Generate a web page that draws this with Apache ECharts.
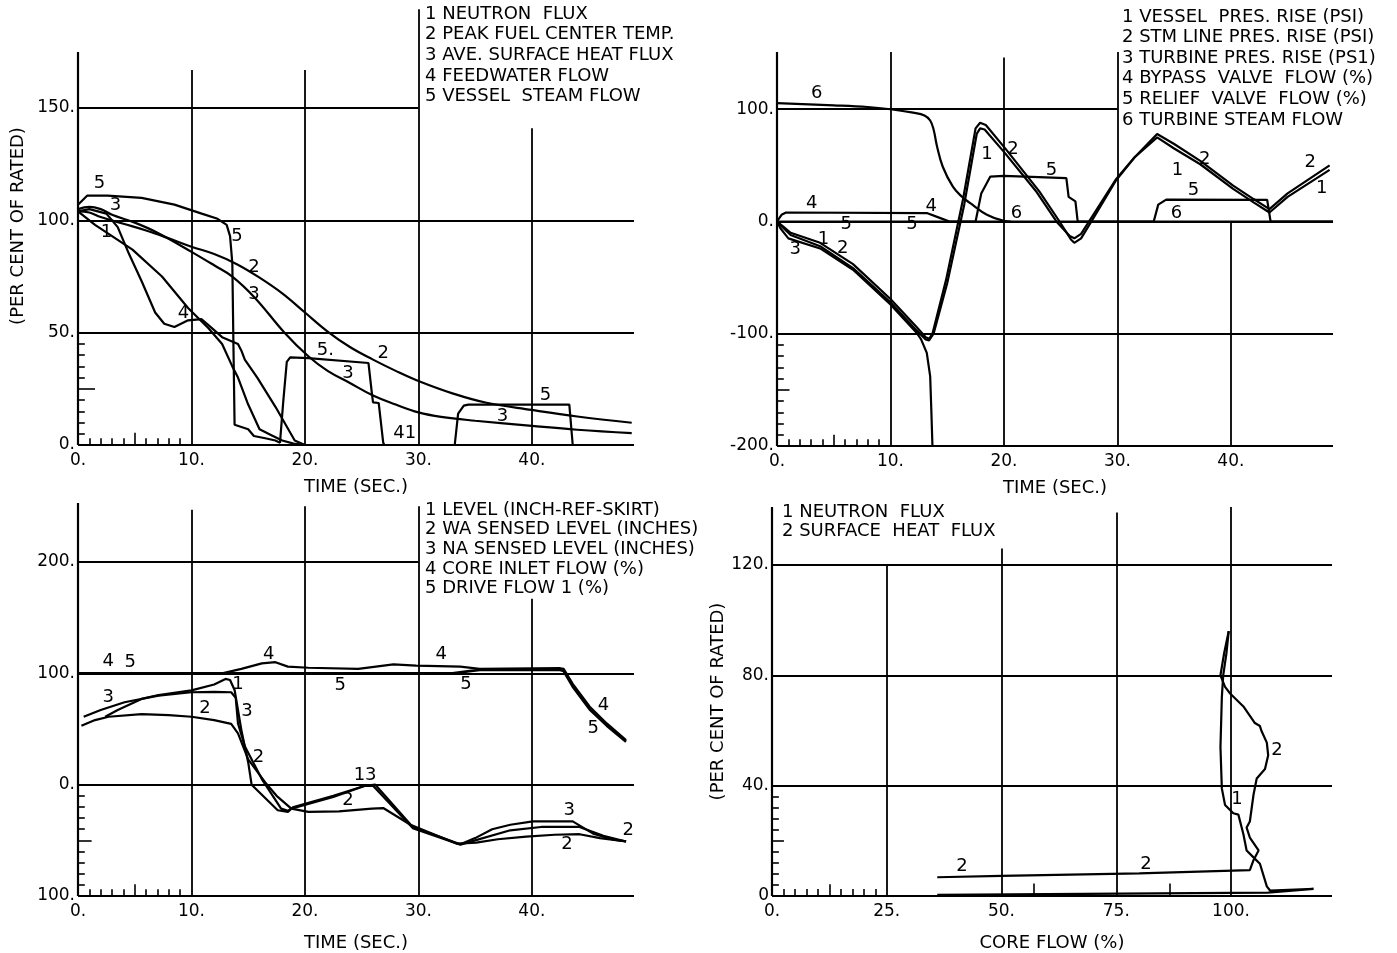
<!DOCTYPE html>
<html><head><meta charset="utf-8">
<script src="https://cdn.jsdelivr.net/npm/echarts@6/dist/echarts.min.js"></script>
<style>html,body{margin:0;padding:0;background:#fff}#c{width:1397px;height:953px}</style>
</head><body><div id="c"></div>
<script>
// ---------------- PANEL 1 (time, % of rated) ----------------
const p1NeutronFlux = [[0,104],[1.5,98],[3,93],[4.8,87],[7.4,75],[9.7,61],[11.5,52],[12.7,45],[13.6,35],[14.1,30],[15,18],[16,7],[17,4.5],[18,2],[19,0.6],[20,0],[43,0]];
const p1PeakFuelTemp = [[0,104],[1,103.5],[2,101.5],[4,98.5],[6,95.5],[8,92],[10,88.3],[12,85],[14,80.5],[16,74.5],[18,67.5],[20,59],[22,50.5],[24,43.5],[26,38],[28,33],[30,28.5],[33,23],[36,18.8],[40,15.6],[44,12.7],[48.8,9.9]];
const p1SurfaceHeatFlux = [[0,105],[1,106],[2,105],[3,102.5],[5,99],[7,94.5],[10,86],[12,80],[13.6,75],[15.6,65.5],[18.2,50],[20.3,39.5],[22,33],[24,27.5],[26,22],[28,18],[30,14.5],[32,12.5],[35,10.8],[40,8.5],[44,6.8],[48.8,5.3]];
const p1FeedwaterFlow = [[0,104],[1,105],[2.5,103],[3.5,97],[4.5,85],[5.6,73],[6.8,59],[7.6,54],[8.5,52.5],[9.7,55.5],[10.9,56],[11.8,52],[12.7,48],[14.1,45],[14.4,42],[14.7,38],[15.8,30],[17.4,17],[19.1,2],[20,0],[43,0]];
const p1VesselSteamFlow = [[0,107],[0.8,111],[2.6,111],[5.6,110],[8.5,107],[10.9,103],[12.3,100.7],[13.1,98],[13.4,93],[13.6,81],[13.7,44],[13.8,9],[15,7],[15.5,4],[16.5,3],[17.4,2],[17.8,1],[18.1,20],[18.4,37],[18.7,39],[20.3,38.7],[25.6,36.5],[25.9,23],[26,19],[26.5,18.7],[26.9,1],[27,0],[33.2,0],[33.5,14],[34,17.5],[34.4,18],[43.3,18],[43.6,0],[48.5,0]];
const p1Notes = [[1.9,116.7,'5'],[3.3,106.5,'3'],[2.5,94.9,'1'],[14.0,93.1,'5'],[15.5,79.3,'2'],[15.5,67.3,'3'],[9.3,58.8,'4'],[21.8,42.3,'5.'],[26.9,41.0,'2'],[23.8,32.1,'3'],[41.2,22.3,'5'],[37.4,12.9,'3'],[28.8,5.3,'41']];
const p1Legend = ['1 NEUTRON  FLUX','2 PEAK FUEL CENTER TEMP.','3 AVE. SURFACE HEAT FLUX','4 FEEDWATER FLOW','5 VESSEL  STEAM FLOW'];
const p1HGrid = [[150,0,30],[100,0,49],[50,0,49]];
const p1VGrid = [[10,0,167],[20,0,167],[30,0,194],[40,0,141]];

// ---------------- PANEL 2 (time, pressure rise / flow) ----------------
const p2VesselPres = [[0,0],[0.5,-5],[1.2,-12],[3.8,-22],[6.7,-41.5],[10,-72],[12.3,-97],[13.1,-105],[13.4,-106],[13.8,-100],[15,-55],[16.5,15],[17.6,78],[17.9,83],[18.3,82],[20,62],[22.9,26],[24.7,-1],[25.8,-13],[26.2,-15],[26.8,-11],[28,8],[29.9,38],[31.5,57],[33.5,75],[35,65],[37.3,51],[40.2,29],[42,17],[43.4,8],[45,22],[48.7,46]];
const p2StmLinePres = [[0,0],[0.5,-4],[1.2,-10],[3.8,-19],[6.7,-38],[10,-69],[12.3,-94],[13.1,-103],[13.4,-104.5],[13.7,-100],[14.9,-52],[16.4,20],[17.5,83],[17.9,88],[18.4,86],[20.2,64],[23.1,27],[24.9,0],[25.9,-16],[26.2,-19],[26.8,-15],[28,5],[29.9,37],[31.5,57],[33.5,78],[35,69],[37.3,54],[40.2,32],[42,20],[43.4,11],[45,25],[48.7,50]];
const p2TurbinePres = [[0,0],[0.3,-6],[1,-15],[3.8,-24],[6.7,-43],[10,-74],[12.3,-99],[12.7,-105],[13.2,-117],[13.5,-138],[13.6,-168],[13.7,-200]];
const p2BypassFlow = [[0,0],[0.4,6],[0.8,8],[13.2,7.5],[14.4,3],[15.2,0],[49,0]];
const p2ReliefFlow = [[0,0],[17.5,0],[18,25],[18.8,40],[20,40.7],[25.5,38.6],[25.7,22],[26.3,18],[26.5,0],[33.2,0],[33.6,15],[34.3,19.5],[43.2,19.3],[43.5,0],[49,0]];
const p2TurbineSteam = [[0,105.4],[5,103.5],[8,102],[10,100],[12,97],[13,94.5],[13.5,90],[13.8,82],[14.1,67],[14.6,49],[15.5,31],[16.3,22],[17,16.6],[18.5,6],[20,0.5],[20.6,0]];
const p2Notes = [[3.5,114.3,'6'],[18.5,59.4,'1'],[20.8,63.9,'2'],[24.2,46,'5'],[3.06,16.4,'4'],[13.6,13.4,'4'],[6.1,-2.9,'5'],[11.9,-2.9,'5'],[21.1,7.5,'6'],[1.6,-25.2,'3'],[4.1,-16.3,'1'],[5.8,-23.7,'2'],[35.3,46,'1'],[37.7,55,'2'],[36.7,28.2,'5'],[35.2,7.7,'6'],[47,52.3,'2'],[48,29.7,'1']];
const p2Legend = ['1 VESSEL  PRES. RISE (PSI)','2 STM LINE PRES. RISE (PSI)','3 TURBINE PRES. RISE (PS1)','4 BYPASS  VALVE  FLOW (%)','5 RELIEF  VALVE  FLOW (%)','6 TURBINE STEAM FLOW'];
const p2HGrid = [[100,0,30],[0,0,49],[-100,0,49]];
const p2VGrid = [[10,-200,151],[20,-200,146],[30,-200,151],[40,-200,0]];

// ---------------- PANEL 3 (time, level / flow) ----------------
const p3Level = [[2.4,61],[3.5,67],[5.6,77],[7.1,80.5],[10,84.7],[12,90],[13,95],[13.4,94],[13.8,85],[14.4,49],[15,20],[15.3,0],[17.6,-23],[18.5,-24.5],[18.8,-21.5],[22.5,-11],[25.3,-1],[26,-1],[29.5,-39],[33.7,-54],[35,-50],[38.1,-41],[40.8,-38],[44.2,-38],[46.3,-46],[48.3,-51]];
const p3WASensed = [[0.3,53],[1.5,58],[2.7,61],[5.6,63.4],[8,62.5],[10,61],[12,58],[13.5,54.6],[14.1,46],[15,22.7],[16.5,2],[17.5,-10],[18.8,-21.5],[20.3,-24.5],[23,-24],[25.9,-21.5],[26.9,-21],[29.3,-36],[33.4,-53],[35.1,-52],[37,-49],[39.5,-46.6],[42,-45],[44.2,-44.5],[46,-48],[48.3,-51]];
const p3NASensed = [[0.5,61],[2,67],[4.1,74],[7.1,80],[10,83],[12,83.3],[13.5,83],[13.9,78],[14.1,55],[14.7,34.5],[16.2,5],[17.9,-21.5],[18.5,-23.5],[19,-20],[22.5,-10],[25.3,-1],[26.2,0],[29.5,-38],[33.7,-53.5],[35,-48],[36.5,-40],[38.1,-36],[40.1,-33],[43.6,-33],[45.4,-44],[47.2,-49.5],[48.3,-51]];
const p3CoreInlet = [[0,100],[12.7,100],[14.4,104],[16.2,109],[17.4,110],[18.5,106],[20.3,105],[24.7,104],[27.8,108],[29.8,107],[33.7,106],[35.4,104],[42.5,104.6],[42.8,104],[43.6,90.5],[45.1,70],[46.6,55],[48.3,40]];
const p3DriveFlow = [[0,100],[33,100],[34.5,102],[35.4,103],[42.5,103],[42.8,102],[43.6,88],[45.1,67.5],[46.6,53],[48.3,38.5]];
const p3Notes = [[2.67,111.2,'4'],[4.6,109.7,'5'],[2.67,78.8,'3'],[16.8,117.1,'4'],[14.1,90.5,'1'],[14.9,65.5,'3'],[11.2,68.4,'2'],[15.9,24.2,'2'],[23.1,89.1,'5'],[25.3,8,'13'],[23.8,-14.2,'2'],[32.0,117.1,'4'],[34.2,90.5,'5'],[46.3,71.4,'4'],[45.4,50.7,'5'],[43.3,-23,'3'],[43.1,-54,'2'],[48.5,-40.7,'2']];
const p3Legend = ['1 LEVEL (INCH-REF-SKIRT)','2 WA SENSED LEVEL (INCHES)','3 NA SENSED LEVEL (INCHES)','4 CORE INLET FLOW (%)','5 DRIVE FLOW 1 (%)'];
const p3HGrid = [[200,0,30],[100,0,49],[0,0,49]];
const p3VGrid = [[10,-100,247],[20,-100,250],[30,-100,250],[40,-100,167]];

// ---------------- PANEL 4 (core flow, % of rated) ----------------
const p4NeutronFlux = [[99.5,96],[99,88],[98.3,80],[98,72],[97.7,54],[98,39],[98.7,33],[100.5,30],[101.6,29.5],[102.7,22.4],[103.4,16.5],[104.9,14],[106.3,11.7],[107.8,3.5],[108.5,2],[118,2.6],[108,1.2],[36,0.4]];
const p4SurfaceHeatFlux = [[99.5,96],[98.5,88],[97.7,80],[98.7,75.8],[99.8,73.4],[102.7,68.7],[105.2,62.7],[106.3,61.6],[106.6,60],[107.8,55.6],[108.1,51],[107.4,46],[105.6,42.6],[104.9,36.7],[104.1,27],[103.4,24.8],[104.1,21.2],[106,16.5],[104.9,13],[104.5,12.3],[104.1,9.4],[80,8.2],[50,7.3],[36,6.8]];
const p4Notes = [[110,52.7,'2'],[101.3,35,'1'],[41.4,10.7,'2'],[81.5,11.4,'2']];
const p4Legend = ['1 NEUTRON  FLUX','2 SURFACE  HEAT  FLUX'];
const p4HGrid = [[120,0,122],[80,0,122],[40,0,122]];
const p4VGrid = [[25,0,120],[50,0,126],[75,0,139],[100,0,141]];

const FONT = 'DejaVu Sans';
const BLACK = '#000';

// minor tick marks near the origin of each panel: [position, length]
const p1TickX = [[1,3],[2,3],[3,3],[4,3],[5,5.5],[6,3],[7,3],[8,3],[9,3]];
const p1TickY = [[5,0.6],[10,0.6],[15,0.6],[20,0.6],[25,1.5],[30,0.6],[35,0.6],[40,0.6],[45,0.6]];
const p2TickX = [[1,6],[2,6],[3,6],[4,6],[5,10],[6,6],[7,6],[8,6],[9,6]];
const p2TickY = [[-190,0.6],[-180,0.6],[-170,0.6],[-160,0.6],[-150,1.1],[-140,0.6],[-130,0.6],[-120,0.6],[-110,0.6]];
const p3TickX = [[1,6],[2,6],[3,6],[4,6],[5,10.6],[6,6],[7,6],[8,6],[9,6]];
const p3TickY = [[-90,0.6],[-80,0.6],[-70,0.6],[-60,0.6],[-50,1.2],[-40,0.6],[-30,0.6],[-20,0.6],[-10,0.6]];
const p4TickX = [[2.5,2.5],[5,2.5],[7.5,2.5],[10,2.5],[12.5,4.3],[15,2.5],[17.5,2.5],[20,2.5],[22.5,2.5],[57,4.5],[86.6,4.5]];
const p4TickY = [[4,1.5],[8,1.5],[12,1.5],[16,1.5],[20,2.6],[24,1.5],[28,1.5],[32,1.5],[36,1.5]];

function seg(x1,y1,x2,y2,w){
  return [{coord:[x1,y1], lineStyle:{width:w, color:BLACK, type:'solid'}},{coord:[x2,y2]}];
}
function frame(idx, xMin, xMax, yMin, yMax, hGrid, vGrid, tickX, tickY){
  const d = [];
  d.push(seg(xMin,yMin,xMax,yMin,2.2));
  d.push(seg(xMin,yMin,xMin,yMax,2.2));
  hGrid.forEach(g=>d.push(seg(g[1],g[0],g[2],g[0],1.8)));
  vGrid.forEach(g=>d.push(seg(g[0],g[1],g[0],g[2],1.8)));
  tickX.forEach(t=>d.push(seg(t[0],yMin,t[0],yMin+t[1],1.6)));
  tickY.forEach(t=>d.push(seg(xMin,t[0],xMin+t[1],t[0],1.6)));
  return {type:'line', xAxisIndex:idx, yAxisIndex:idx, data:[], silent:true,
    markLine:{silent:true, symbol:['none','none'], label:{show:false}, animation:false, data:d}};
}
function curve(idx, data, w, smooth){
  return {type:'line', xAxisIndex:idx, yAxisIndex:idx, data:data, showSymbol:false, silent:true,
    smooth: smooth || false,
    lineStyle:{color:BLACK, width:w||2.2}, itemStyle:{color:BLACK}, clip:true};
}
function notes(idx, arr){
  return {type:'scatter', xAxisIndex:idx, yAxisIndex:idx, symbolSize:1, silent:true,
    itemStyle:{color:'rgba(255,255,255,0)', opacity:1},
    label:{show:true, position:'inside', formatter:'{b}', color:BLACK, opacity:1, fontFamily:FONT, fontSize:18},
    data: arr.map(a=>({value:[a[0],a[1]], name:a[2]}))};
}
function legendText(lines, x, y0, dy){
  return lines.map((t,i)=>({type:'text', x:x, y:y0+i*dy, silent:true,
    style:{text:t, fill:BLACK, fontFamily:FONT, fontSize:18, verticalAlign:'middle'}}));
}
function lab(step, maxShown, absNeg){
  return v => (Math.abs(v % step) < 1e-9 && v <= maxShown) ? ((absNeg && v<0) ? (-v)+'.' : v+'.') : '';
}
function xAx(idx, max, step, maxShown, name, gap){
  return {type:'value', gridIndex:idx, min:0, max:max, interval:step,
    axisLine:{show:false}, axisTick:{show:false}, splitLine:{show:false},
    axisLabel:{formatter:lab(step,maxShown), color:BLACK, fontFamily:FONT, fontSize:17, margin:7},
    name:name, nameLocation:'middle', nameGap:gap, nameTextStyle:{color:BLACK, fontFamily:FONT, fontSize:18}};
}
function yAx(idx, min, max, step, maxShown, name, gap, absNeg, zeroPlain){
  const f = lab(step, maxShown, absNeg);
  return {type:'value', gridIndex:idx, min:min, max:max, interval:step,
    axisLine:{show:false}, axisTick:{show:false}, splitLine:{show:false},
    axisLabel:{formatter: v => (zeroPlain && v===0) ? '0' : f(v), color:BLACK, fontFamily:FONT, fontSize:17, margin:3},
    name:name, nameLocation:'middle', nameGap:gap, nameRotate:90, nameTextStyle:{color:BLACK, fontFamily:FONT, fontSize:18}};
}

const chart = echarts.init(document.getElementById('c'), null, {renderer:'canvas'});
chart.setOption({
  animation:false,
  backgroundColor:'#fff',
  grid:[
    {left:78, top:7, width:556, height:438},
    {left:777, top:52, width:556, height:394},
    {left:78, top:503, width:556, height:399},
    {left:772, top:507, width:560, height:396}
  ],
  xAxis:[
    xAx(0,49,10,40,'TIME (SEC.)',33),
    xAx(1,49,10,40,'TIME (SEC.)',33),
    xAx(2,49,10,40,'TIME (SEC.)',38),
    xAx(3,122,25,100,'CORE FLOW (%)',38)
  ],
  yAxis:[
    yAx(0,0,195,50,150,'(PER CENT OF RATED)',51),
    yAx(1,-200,151,100,100,'',0),
    yAx(2,-100,253,100,200,'',0,true),
    yAx(3,0,141,40,120,'(PER CENT OF RATED)',36,false,true)
  ],
  graphic: [].concat(
    legendText(p1Legend,425,14,20.7),
    legendText(p2Legend,1122,17,20.6),
    legendText(p3Legend,425,510,19.7),
    legendText(p4Legend,782,512,19.5)
  ),
  series:[
    frame(0,0,49,0,175,p1HGrid,p1VGrid,p1TickX,p1TickY),
    curve(0,p1NeutronFlux),
    curve(0,p1PeakFuelTemp,2.2,0.4),
    curve(0,p1SurfaceHeatFlux,2.2,0.4),
    curve(0,p1FeedwaterFlow),
    curve(0,p1VesselSteamFlow),
    notes(0,p1Notes),

    frame(1,0,49,-200,151,p2HGrid,p2VGrid,p2TickX,p2TickY),
    curve(1,p2VesselPres),
    curve(1,p2StmLinePres),
    curve(1,p2TurbinePres),
    curve(1,p2BypassFlow),
    curve(1,p2ReliefFlow),
    curve(1,p2TurbineSteam,2.2,0.4),
    notes(1,p2Notes),

    frame(2,0,49,-100,253,p3HGrid,p3VGrid,p3TickX,p3TickY),
    curve(2,p3Level),
    curve(2,p3WASensed),
    curve(2,p3NASensed),
    curve(2,p3CoreInlet),
    curve(2,p3DriveFlow,2.6),
    notes(2,p3Notes),

    frame(3,0,122,0,141,p4HGrid,p4VGrid,p4TickX,p4TickY),
    curve(3,p4NeutronFlux),
    curve(3,p4SurfaceHeatFlux),
    notes(3,p4Notes)
  ]
});
</script></body></html>
